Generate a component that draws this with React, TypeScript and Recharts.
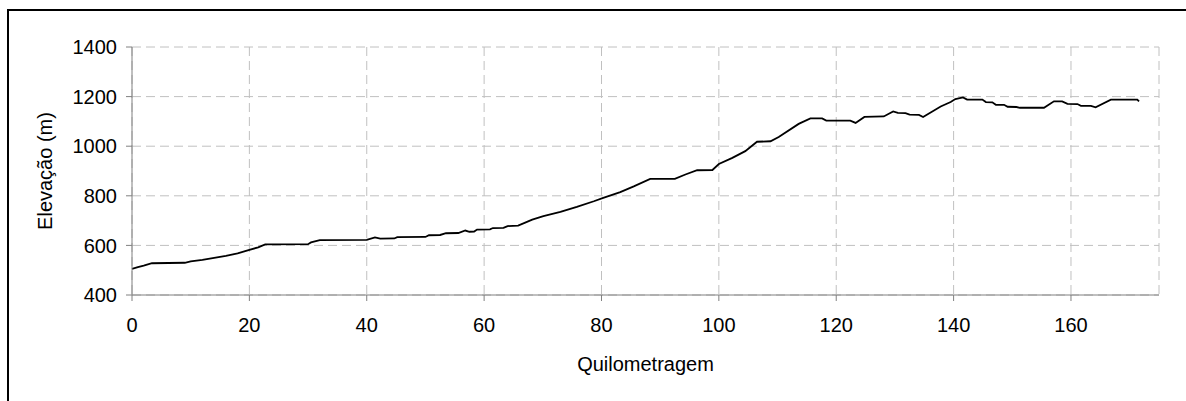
import { LineChart, Line, XAxis, YAxis, CartesianGrid } from 'recharts';

// km along the route and elevation in metres
const km = [
  0, 1, 2, 3.4, 9, 10, 12, 14, 16, 18, 20, 21.5, 22.7, 30, 30.5, 32, 40, 41.4, 42.3, 44.7,
  45.2, 50, 50.6, 52.5, 53.5, 55.6, 56.8, 57.5, 58.3, 58.8, 61, 61.5, 63.3, 64, 65.8, 67,
  68.2, 70.1, 73, 75.8, 78.7, 80.3, 83.2, 85.5, 88.3, 92.5, 94.3, 96.3, 98.9, 100, 102.3,
  104.5, 106.5, 108.8, 110.2, 113.6, 115.6, 117.6, 118.3, 122.4, 123.3, 124.8, 128.1, 129.7,
  130.5, 131.8, 132.5, 134.1, 134.8, 137.8, 139.5, 140.3, 141.6, 142.3, 144.9, 145.5, 146.6,
  147.2, 148.6, 149.2, 150.7, 151.3, 155.4, 157.1, 158.5, 159.4, 161.1, 161.7, 163.4, 164.2,
  166.8, 171.3, 171.6,
];
const elevation = [
  505, 512, 518, 528, 530, 536, 542, 550, 558, 568, 582, 592, 604, 605, 612, 621, 622, 632, 627,
  628, 633, 634, 641, 642, 649, 650, 660, 655, 656, 664, 665, 670, 671, 678, 680, 692, 704, 718,
  735, 755, 778, 792, 815, 838, 868, 868, 886, 903, 904, 928, 953, 980, 1018, 1020, 1037, 1090,
  1112, 1112, 1103, 1103, 1094, 1118, 1120, 1140, 1134, 1133, 1127, 1126, 1118, 1160, 1178, 1190,
  1197, 1188, 1188, 1178, 1177, 1167, 1167, 1159, 1158, 1155, 1155, 1181, 1181, 1171, 1170, 1163,
  1163, 1157, 1188, 1188, 1181,
];
const xTicks = [0, 20, 40, 60, 80, 100, 120, 140, 160];
const yTicks = [400, 600, 800, 1000, 1200, 1400];

const data = km.map((k, i) => ({ km: k, elev: elevation[i] }));

const font = '"Liberation Sans", Arial, sans-serif';
const tickStyle = { fontSize: 20, fill: '#000', fontFamily: font };

export default function App() {
  return (
    <div
      style={{
        position: 'fixed',
        left: 0,
        top: 0,
        width: 1186,
        height: 401,
        background: '#fff',
        overflow: 'hidden',
      }}
    >
      <div
        style={{
          position: 'absolute',
          left: 7,
          top: 9,
          width: 1200,
          height: 420,
          borderTop: '2px solid #000',
          borderLeft: '2px solid #000',
        }}
      />
      <div style={{ position: 'absolute', left: 0, top: 0 }}>
        <LineChart width={1186} height={401} data={data} margin={{ top: 47, right: 27, left: 0, bottom: 1 }}>
          <CartesianGrid stroke="#c0c0c0" strokeDasharray="9 5" />
          <XAxis
            dataKey="km"
            type="number"
            domain={[0, 175]}
            ticks={xTicks}
            height={105}
            tick={tickStyle}
            tickSize={6}
            tickMargin={17}
            stroke="#808080"
            label={{
              value: 'Quilometragem',
              position: 'insideBottom',
              offset: 29,
              style: { fontSize: 20, fill: '#000', fontFamily: font },
            }}
          />
          <YAxis
            type="number"
            domain={[400, 1400]}
            ticks={yTicks}
            width={132}
            tick={tickStyle}
            tickSize={6}
            tickMargin={9}
            stroke="#808080"
            label={{
              value: 'Elevação (m)',
              angle: -90,
              position: 'insideLeft',
              offset: 45,
              style: { fontSize: 20, fill: '#000', fontFamily: font, textAnchor: 'middle' },
            }}
          />
          <Line
            dataKey="elev"
            type="linear"
            stroke="#000"
            strokeWidth={1.8}
            dot={false}
            isAnimationActive={false}
          />
        </LineChart>
      </div>
    </div>
  );
}
